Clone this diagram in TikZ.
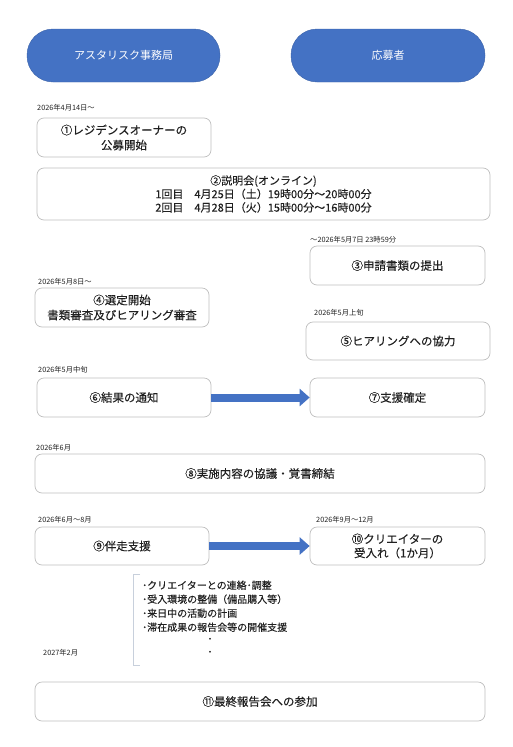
\documentclass[tikz,border=0pt]{standalone}
\usepackage{fontspec}
\setmainfont{Noto Sans CJK JP}
\newfontfamily\boxfont[FakeBold=0.15]{Noto Sans CJK JP}
\usetikzlibrary{arrows.meta}
\definecolor{pillblue}{HTML}{4472C4}
\definecolor{boxgray}{HTML}{BFBFBF}
\definecolor{txt}{HTML}{202020}
\definecolor{brk}{HTML}{C8D0DC}
\tikzset{
  pill/.style={fill=pillblue, draw=pillblue!85!black, line width=0.4pt, rounded corners=26pt, minimum height=53pt, text=white, font=\fontsize{11}{13}\selectfont, inner sep=0pt},
  stepbox/.style={draw=boxgray, fill=white, line width=0.7pt, rounded corners=7pt, align=center, text=txt, inner sep=0pt, font=\boxfont\fontsize{11.5}{15}\selectfont},
  datelbl/.style={anchor=west, inner sep=0pt, text=txt, font=\fontsize{7.3}{8}\selectfont},
  flowarrow/.style={draw=pillblue, line width=8pt, -{Triangle[length=10pt,width=17pt]}},
  listtxt/.style={anchor=west, inner sep=0pt, text=txt, text height=6pt, text depth=1pt, font=\boxfont\fontsize{10}{14}\selectfont},
  dotmark/.style={inner sep=0pt, text=txt, text height=6pt, text depth=1pt, font=\boxfont\fontsize{10}{14}\selectfont},
}
\begin{document}
\begin{tikzpicture}[x=1pt,y=-1pt]
\useasboundingbox (0,0) rectangle (512,747);
% header pills
\node[pill, minimum width=193pt] (p1) at (123.5,55.5) {アスタリスク事務局};
\node[pill, minimum width=194pt] (p2) at (388,55.5) {応募者};
% boxes
\node[stepbox, minimum width=174pt, minimum height=39pt] (b1) at (124,137.5) {①レジデンスオーナーの\\公募開始};
\node[stepbox, minimum width=453pt, minimum height=52pt, font=\boxfont\fontsize{11}{13.5}\selectfont] (b2) at (263.5,194) {②説明会(オンライン)\\1回目　4月25日（土）19時00分～20時00分\\2回目　4月28日（火）15時00分～16時00分};
\node[stepbox, minimum width=175pt, minimum height=39pt] (b3) at (397.5,265.5) {③申請書類の提出};
\node[stepbox, minimum width=174pt, minimum height=39pt] (b4) at (122,307.5) {④選定開始\\書類審査及びヒアリング審査};
\node[stepbox, minimum width=184pt, minimum height=38pt] (b5) at (398,341) {⑤ヒアリングへの協力};
\node[stepbox, minimum width=174pt, minimum height=39pt] (b6) at (124,397.5) {⑥結果の通知};
\node[stepbox, minimum width=175pt, minimum height=39pt] (b7) at (397.5,397.5) {⑦支援確定};
\node[stepbox, minimum width=450pt, minimum height=39pt] (b8) at (260,473.5) {⑧実施内容の協議・覚書締結};
\node[stepbox, minimum width=174pt, minimum height=38pt] (b9) at (122,546) {⑨伴走支援};
\node[stepbox, minimum width=175pt, minimum height=38pt, font=\boxfont\fontsize{11.5}{14}\selectfont] (b10) at (397.5,546) {⑩クリエイターの\\受入れ（1か月）};
\node[stepbox, minimum width=450pt, minimum height=39pt] (b11) at (260,701.5) {⑪最終報告会への参加};
% date labels
\node[datelbl] (d1) at (37,108) {2026年4月14日～};
\node[datelbl] (d3) at (310,240) {～2026年5月7日 23時59分};
\node[datelbl] (d4) at (38,282) {2026年5月8日～};
\node[datelbl] (d5) at (314,313) {2026年5月上旬};
\node[datelbl] (d6) at (38,370) {2026年5月中旬};
\node[datelbl] (d8) at (36,448) {2026年6月};
\node[datelbl] (d9) at (38,520) {2026年6月～8月};
\node[datelbl] (d10) at (316,520) {2026年9月～12月};
\node[datelbl] (d11) at (43,653) {2027年2月};
% arrows
\draw[flowarrow] (b6.east) -- (b7.west);
\draw[flowarrow] (b9.east) -- (b10.west);
% bracket list
\coordinate (bt) at (140,574);
\coordinate (bb) at (140,665);
\draw[brk, line width=0.8pt] (bt) -- ++(-7,0) |- (bb);
\node[listtxt] (l1) at (142,586.5) {･クリエイターとの連絡･調整};
\node[listtxt] (l2) at (142,600.5) {･受入環境の整備（備品購入等）};
\node[listtxt] (l3) at (142,614.5) {･来日中の活動の計画};
\node[listtxt] (l4) at (142,628.5) {･滞在成果の報告会等の開催支援};
\node[dotmark] (dot1) at (210,640) {･};
\node[dotmark] (dot2) at (210,653) {･};
\end{tikzpicture}
\end{document}
